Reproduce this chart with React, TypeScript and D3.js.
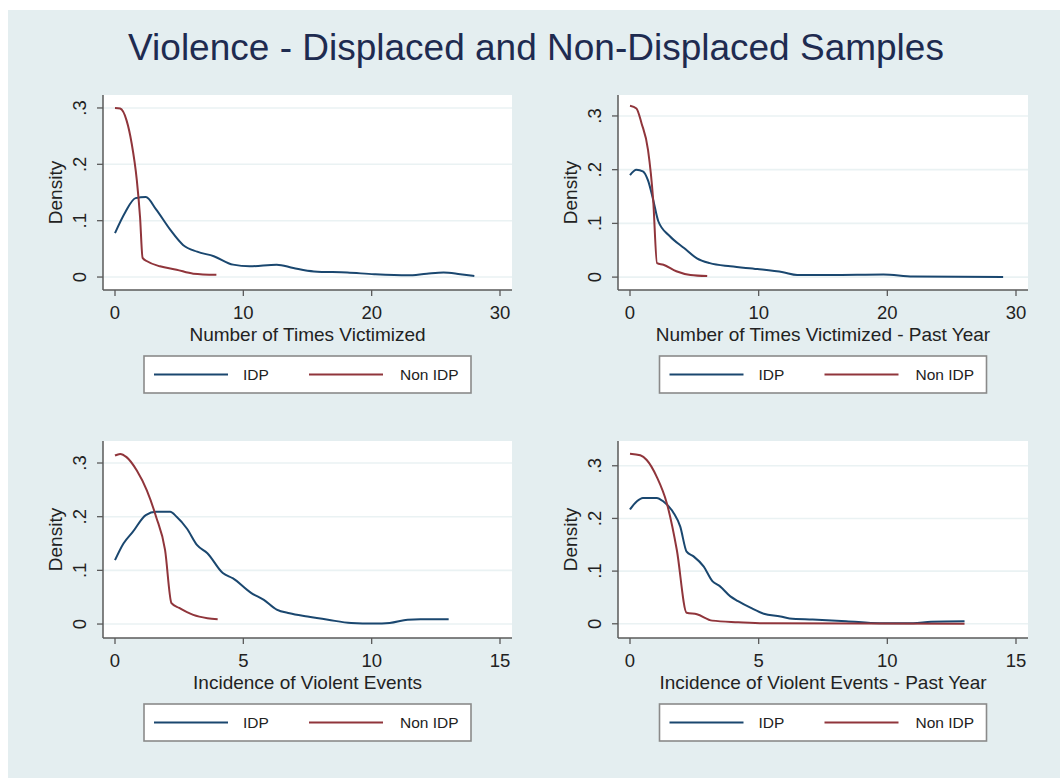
import * as React from "react";
import * as d3 from "d3";

// kernel density curves, [x, density]
const timesIdp = [[0, 0.078], [0.8, 0.115], [1.6, 0.14], [2.4, 0.142], [3.2, 0.12], [4.3, 0.084], [5.3, 0.057], [6.4, 0.045], [7.7, 0.037], [9.2, 0.022], [10.5, 0.019], [12.6, 0.022], [13.9, 0.016], [15.5, 0.01], [18.1, 0.008], [20.2, 0.005], [22.8, 0.003], [24.3, 0.006], [25.6, 0.008], [26.9, 0.005], [28, 0.002]];
const timesNon = [[0, 0.3], [0.4, 0.299], [0.9, 0.278], [1.3, 0.237], [1.7, 0.172], [1.95, 0.107], [2.15, 0.034], [2.5, 0.028], [3.5, 0.019], [4.8, 0.013], [6.1, 0.006], [7.9, 0.004]];

const pastIdp = [[0, 0.19], [0.5, 0.2], [1.0, 0.197], [1.4, 0.18], [1.8, 0.144], [2.2, 0.104], [3.1, 0.076], [4.2, 0.054], [5.2, 0.035], [6.2, 0.026], [7.8, 0.02], [9.9, 0.015], [11.9, 0.009], [13, 0.004], [15.6, 0.004], [19.7, 0.005], [22, 0.001], [29, 0]];
const pastNon = [[0, 0.319], [0.5, 0.314], [0.9, 0.286], [1.4, 0.237], [1.8, 0.144], [2.1, 0.026], [2.6, 0.023], [3.6, 0.011], [4.7, 0.004], [6, 0.002]];

const eventsIdp = [[0, 0.119], [0.33, 0.15], [0.7, 0.172], [1.2, 0.203], [1.6, 0.209], [2.15, 0.209], [2.4, 0.2], [2.8, 0.178], [3.2, 0.147], [3.6, 0.132], [4.2, 0.095], [4.6, 0.085], [5.3, 0.058], [5.8, 0.045], [6.3, 0.027], [6.8, 0.02], [7.5, 0.014], [8.3, 0.008], [9.2, 0.002], [10.1, 0.001], [10.7, 0.002], [11.4, 0.008], [11.9, 0.009], [13, 0.009]];
const eventsNon = [[0, 0.314], [0.2, 0.317], [0.45, 0.311], [0.85, 0.286], [1.24, 0.249], [1.6, 0.2], [1.95, 0.138], [2.2, 0.039], [2.5, 0.03], [3.05, 0.017], [3.6, 0.011], [4.0, 0.009]];

const eventsPastIdp = [[0, 0.217], [0.26, 0.232], [0.5, 0.239], [1.04, 0.239], [1.3, 0.232], [1.7, 0.21], [1.95, 0.185], [2.2, 0.137], [2.47, 0.128], [2.86, 0.109], [3.2, 0.081], [3.5, 0.071], [3.9, 0.052], [4.2, 0.043], [4.7, 0.03], [5.2, 0.019], [5.85, 0.014], [6.2, 0.01], [7.1, 0.008], [8.4, 0.005], [9.7, 0.001], [11, 0.001], [11.7, 0.004], [13, 0.005]];
const eventsPastNon = [[0, 0.323], [0.4, 0.32], [0.65, 0.311], [1.04, 0.279], [1.43, 0.229], [1.82, 0.14], [2.2, 0.021], [2.6, 0.018], [3.2, 0.006], [4.2, 0.003], [5.2, 0.001], [13, 0]];

const yTicks = [0, 0.1, 0.2, 0.3];
const yTickLabels = ["0", ".1", ".2", ".3"];
const xTicksTimes = [0, 10, 20, 30];
const xTicksEvents = [0, 5, 10, 15];
const legendLabels = ["IDP", "Non IDP"];

const IDP_COLOR = "#1a476f";
const NON_COLOR = "#90353b";
const BG = "#e4eef0";
const FONT = "'Liberation Sans', Arial, Helvetica, sans-serif";

const panels = [
  { left: 103, right: 512, top: 95, bottom: 290, xTicks: xTicksTimes, yLo: -0.023, yHi: 0.323, title: "Number of Times Victimized", idp: timesIdp, non: timesNon },
  { left: 618, right: 1028, top: 95, bottom: 290, xTicks: xTicksTimes, yLo: -0.024, yHi: 0.339, title: "Number of Times Victimized - Past Year", idp: pastIdp, non: pastNon },
  { left: 103, right: 512, top: 441, bottom: 638, xTicks: xTicksEvents, yLo: -0.026, yHi: 0.341, title: "Incidence of Violent Events", idp: eventsIdp, non: eventsNon },
  { left: 618, right: 1028, top: 441, bottom: 638, xTicks: xTicksEvents, yLo: -0.027, yHi: 0.347, title: "Incidence of Violent Events - Past Year", idp: eventsPastIdp, non: eventsPastNon },
];

function Panel({ p }) {
  const xMax = p.xTicks[p.xTicks.length - 1];
  const x = d3.scaleLinear().domain([0, xMax]).range([p.left + 12, p.right - 12]);
  const y = d3.scaleLinear().domain([p.yLo, p.yHi]).range([p.bottom, p.top]);
  const line = d3.line().x(d => x(d[0])).y(d => y(d[1])).curve(d3.curveMonotoneX);
  const cx = (p.left + p.right) / 2;
  const cy = (p.top + p.bottom) / 2;
  const lgTop = p.bottom + 66;
  const lgLeft = cx - 163.5;

  return (
    <g>
      <rect x={p.left} y={p.top} width={p.right - p.left} height={p.bottom - p.top} fill="#fff" />
      {yTicks.map(t => (
        <line key={t} x1={p.left} x2={p.right} y1={y(t)} y2={y(t)} stroke="#eaf2f3" strokeWidth={1.6} />
      ))}
      <path d={line(p.idp)} fill="none" stroke={IDP_COLOR} strokeWidth={2} />
      <path d={line(p.non)} fill="none" stroke={NON_COLOR} strokeWidth={2} />
      <line x1={p.left} x2={p.left} y1={p.top} y2={p.bottom} stroke="#5a5a5a" strokeWidth={1.5} />
      <line x1={p.left} x2={p.right} y1={p.bottom} y2={p.bottom} stroke="#5a5a5a" strokeWidth={1.5} />
      {yTicks.map((t, i) => (
        <g key={t}>
          <line x1={p.left - 6} x2={p.left} y1={y(t)} y2={y(t)} stroke="#5a5a5a" strokeWidth={1.3} />
          <text transform={`translate(${p.left - 17.5},${y(t)}) rotate(-90)`} textAnchor="middle" fontSize={18.5} fill="#222">
            {yTickLabels[i]}
          </text>
        </g>
      ))}
      {p.xTicks.map(t => (
        <g key={t}>
          <line x1={x(t)} x2={x(t)} y1={p.bottom} y2={p.bottom + 6} stroke="#5a5a5a" strokeWidth={1.3} />
          <text x={x(t)} y={p.bottom + 29} textAnchor="middle" fontSize={18.5} fill="#222">{t}</text>
        </g>
      ))}
      <text transform={`translate(${p.left - 41},${cy}) rotate(-90)`} textAnchor="middle" fontSize={19} fill="#222">Density</text>
      <text x={cx} y={p.bottom + 51} textAnchor="middle" fontSize={19} fill="#222">{p.title}</text>
      <rect x={lgLeft} y={lgTop} width={327} height={37} fill="#fff" stroke="#8a8a8a" strokeWidth={1.6} />
      {legendLabels.map((lab, i) => (
        <g key={lab}>
          <line x1={lgLeft + 10 + i * 155} x2={lgLeft + 84 + i * 155} y1={lgTop + 18.5} y2={lgTop + 18.5}
            stroke={i === 0 ? IDP_COLOR : NON_COLOR} strokeWidth={2} />
          <text x={lgLeft + 99 + i * 157} y={lgTop + 24} fontSize={15.5} fill="#222">{lab}</text>
        </g>
      ))}
    </g>
  );
}

const App = () => {
  return (
    <div style={{ position: "absolute", left: 0, top: 0 }}>
      <svg width={1060} height={778} style={{ display: "block", fontFamily: FONT }}>
        <rect x={0} y={0} width={1060} height={778} fill="#fff" />
        <rect x={8} y={10} width={1052} height={768} fill={BG} />
        <text x={536} y={60} textAnchor="middle" fontSize={37} fill="#1e2b50">
          Violence - Displaced and Non-Displaced Samples
        </text>
        {panels.map((p, i) => <Panel key={i} p={p} />)}
      </svg>
    </div>
  );
};

export default App;
